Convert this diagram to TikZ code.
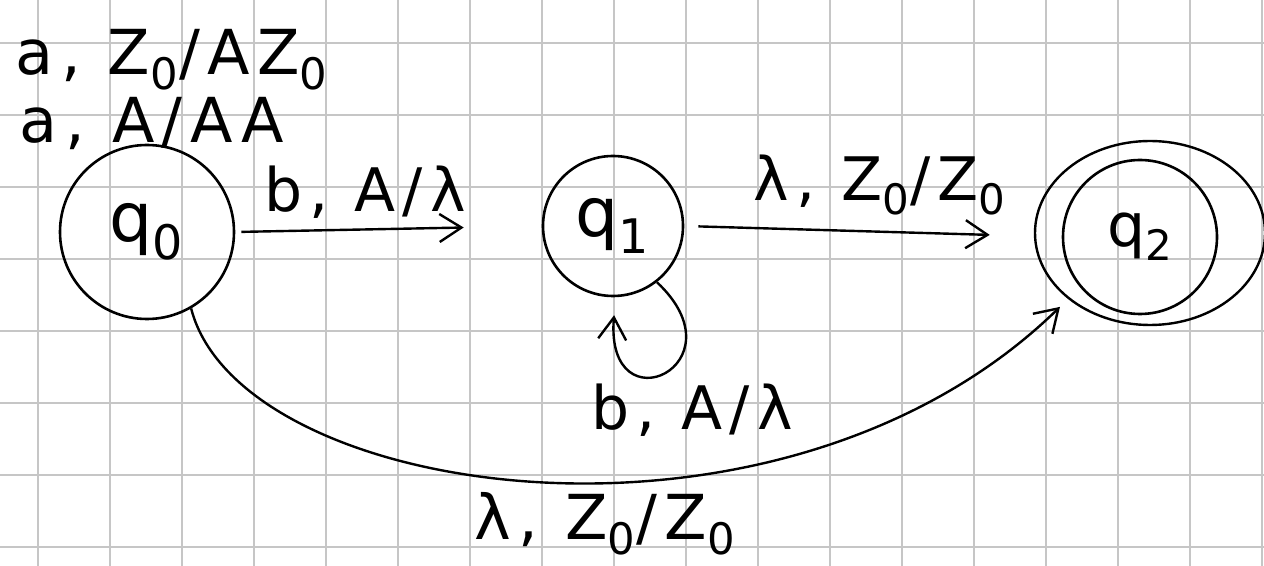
\documentclass[tikz,border=0pt]{standalone}
\usepackage{fontspec}
\setmainfont{DejaVu Sans}
\newfontfamily\handfont[LetterSpace=12]{DejaVu Sans}
\usetikzlibrary{arrows.meta}

\tikzset{
  state/.style = {draw, circle, line width=1.3pt, inner sep=0pt},
  edge/.style = {line width=1.2pt, -{Straight Barb[length=11pt,width=14pt]}},
  lbl/.style = {font=\handfont\fontsize{30}{30}\selectfont, inner sep=0pt},
  biglbl/.style = {font=\handfont\fontsize{31}{31}\selectfont, inner sep=0pt},
  gridline/.style = {gray!45, line width=1.2pt}
}

\begin{document}
\begin{tikzpicture}[x=0.5pt, y=-0.5pt]
  \useasboundingbox (0,0) rectangle (1264,566);
  \fill[white] (0,0) rectangle (1264,566);

  % squared paper
  \foreach \gx in {38,110,...,1262}
    \draw[gridline] (\gx,0) -- (\gx,566);
  \foreach \gy in {43,115,...,566}
    \draw[gridline] (0,\gy) -- (1264,\gy);

  % states
  \node[state, minimum size=87pt] (q0) at (147,232) {\fontsize{34}{34}\selectfont q\textsubscript{0}};
  \node[state, minimum size=70pt] (q1) at (613,226) {\fontsize{34}{34}\selectfont q\textsubscript{1}};
  \node[state, minimum size=77pt] (q2) at (1140,237) {\fontsize{30}{30}\selectfont q\textsubscript{2}};
  \draw[line width=1.2pt] ([shift={(10,-4)}]q2.center) ellipse [x radius=57.5pt, y radius=46pt];

  % transitions
  \draw[edge, shorten <=3pt, shorten >=39pt] (q0.east) -- (q1.west);
  \draw[edge, shorten <=7pt, shorten >=36pt] (q1.east) -- (q2.west);
  \draw[edge, shorten >=9pt] (q1.-52) .. controls (745,365) and (605,430) .. (q1.-88);
  \draw[edge, shorten >=14pt] (q0.-60) .. controls (240,500) and (780,580) .. (q2.-140);

  % labels
  \node[biglbl] (l00) at (172,60) {a, Z\textsubscript{0}/AZ\textsubscript{0}};
  \node[biglbl] (l01) at (152,124) {a, A/AA};
  \node[lbl] (l01a) at (365,192) {b, A/λ};
  \node[lbl] (l12) at (880,185) {λ, Z\textsubscript{0}/Z\textsubscript{0}};
  \node[lbl] (l11) at (692,410) {b, A/λ};
  \node[biglbl] (l02) at (605,524) {λ, Z\textsubscript{0}/Z\textsubscript{0}};
\end{tikzpicture}
\end{document}
